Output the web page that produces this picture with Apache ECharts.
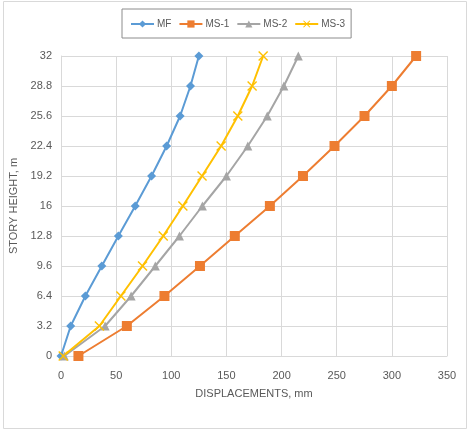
<!DOCTYPE html>
<html>
<head>
<meta charset="utf-8">
<script src="https://cdn.jsdelivr.net/npm/echarts@6/dist/echarts.min.js"></script>
<style>
  html, body { margin: 0; padding: 0; background: #fff; }
  #chart { width: 474px; height: 444px; }
</style>
</head>
<body>
<div id="chart"></div>
<script>
// story heights (m)
var heights = [0, 3.2, 6.4, 9.6, 12.8, 16, 19.2, 22.4, 25.6, 28.8, 32];
var yTickLabels = ['0', '3.2', '6.4', '9.6', '12.8', '16', '19.2', '22.4', '25.6', '28.8', '32'];
var xTickLabels = ['0', '50', '100', '150', '200', '250', '300', '350'];

// displacements (mm)
var mf  = [0, 8.8, 22.1, 37, 52, 67.3, 82.1, 95.8, 108, 117.4, 125];
var ms1 = [15.8, 59.7, 93.8, 126, 157.6, 189.4, 219.4, 248, 275.2, 300, 322];
var ms2 = [3, 40, 63.6, 85.5, 107.4, 128.2, 150, 169.4, 187, 202.1, 215.2];
var ms3 = [2, 34.8, 54.3, 73.9, 92.7, 110.5, 127.9, 145.2, 160.3, 173.3, 183.3];

var seriesNames = ['MF', 'MS-1', 'MS-2', 'MS-3'];
var colors = ['#5b9bd5', '#ed7d31', '#a5a5a5', '#ffc000'];

// x marker shape for MS-3
var crossPath = 'path://M1,0 L5,4 L9,0 L10,1 L6,5 L10,9 L9,10 L5,6 L1,10 L0,9 L4,5 L0,1 Z';

function pairs(xs) {
  var out = [];
  for (var i = 0; i < xs.length; i++) out.push([xs[i], heights[i]]);
  return out;
}

var font = "'Liberation Sans Narrow', 'Liberation Sans', sans-serif";
var chart = echarts.init(document.getElementById('chart'));

var option = {
  animation: false,
  color: colors,
  textStyle: { fontFamily: font },
  grid: { left: 61, right: 27, top: 56, bottom: 88 },
  legend: {
    left: 122, top: 9,
    padding: [10, 6, 9, 8],
    itemWidth: 23, itemHeight: 9, itemGap: 7,
    borderColor: '#8c8c8c', borderWidth: 1,
    textStyle: { color: '#595959', fontSize: 10, fontFamily: font, padding: [0, 0, 0, -2] },
    data: seriesNames
  },
  graphic: [{
    type: 'rect',
    shape: { x: 3.5, y: 1.5, width: 463, height: 427 },
    style: { fill: 'none', stroke: '#d9d9d9', lineWidth: 1 },
    silent: true
  }],
  xAxis: {
    type: 'value', min: 0, max: 350, interval: 50,
    name: 'DISPLACEMENTS, mm', nameLocation: 'middle', nameGap: 32,
    nameTextStyle: { color: '#595959', fontSize: 11, fontFamily: font },
    axisLine: { show: true, lineStyle: { color: '#d9d9d9' } },
    axisTick: { show: false },
    axisLabel: {
      color: '#595959', fontSize: 11, margin: 14,
      formatter: function (v) { return xTickLabels[Math.round(v / 50)]; }
    },
    splitLine: { show: true, lineStyle: { color: '#d9d9d9' } }
  },
  yAxis: {
    type: 'value', min: 0, max: 32, interval: 3.2,
    name: 'STORY HEIGHT, m', nameLocation: 'middle', nameGap: 30,
    nameTextStyle: { color: '#595959', fontSize: 11, fontFamily: font },
    axisLine: { show: true, lineStyle: { color: '#d9d9d9' } },
    axisTick: { show: false },
    axisLabel: {
      color: '#595959', fontSize: 11, margin: 9,
      formatter: function (v) { return yTickLabels[Math.round(v / 3.2)]; }
    },
    splitLine: { show: true, lineStyle: { color: '#d9d9d9' } }
  },
  series: [
    { name: 'MF', type: 'line', data: pairs(mf), symbol: 'diamond', symbolSize: 9,
      lineStyle: { width: 2 } },
    { name: 'MS-1', type: 'line', data: pairs(ms1), symbol: 'rect', symbolSize: 10,
      lineStyle: { width: 2 } },
    { name: 'MS-2', type: 'line', data: pairs(ms2), symbol: 'triangle', symbolSize: 9,
      lineStyle: { width: 2 } },
    { name: 'MS-3', type: 'line', data: pairs(ms3), symbol: crossPath, symbolSize: 10,
      lineStyle: { width: 2 } }
  ]
};

chart.setOption(option);
</script>
</body>
</html>
